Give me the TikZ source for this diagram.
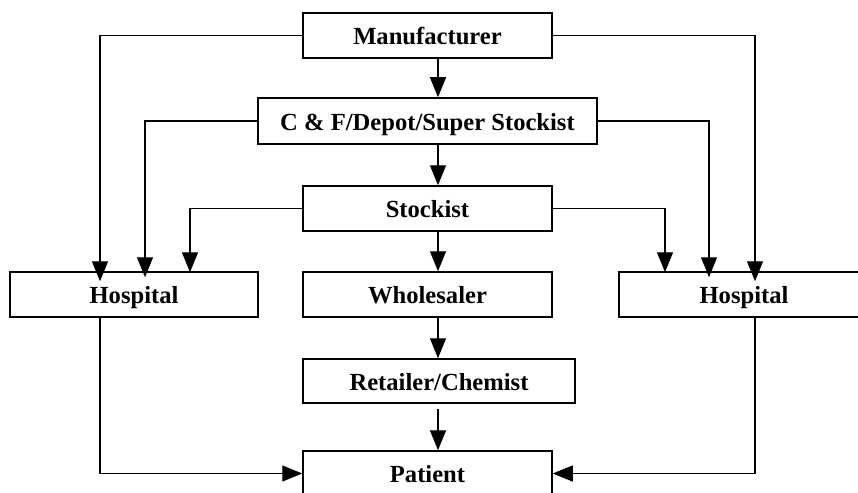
\documentclass[tikz,border=0pt]{standalone}
\usepackage{fontspec}
\setmainfont{Liberation Serif}
\usetikzlibrary{arrows.meta}

\begin{document}
\begin{tikzpicture}[x=1pt,y=-1pt,
   box/.style={draw,line width=1.5pt,inner sep=0pt,minimum height=45pt,
      text height=18pt,text depth=0pt,
      font=\bfseries\fontsize{24.6}{29}\selectfont},
   arr/.style={line width=1.3pt,-{Triangle[length=20pt,width=16pt]}}]

   \clip (0,0) rectangle (858,492);

   \node[box,minimum width=249pt] (manu) at (427.5,35.5) {Manufacturer};
   \node[box,minimum width=339pt,minimum height=46pt] (cf) at (427.5,121) {C \& F/Depot/Super Stockist};
   \node[box,minimum width=249pt] (stock) at (427.5,208.5) {Stockist};
   \node[box,minimum width=248pt] (hosL) at (134,294.5) {Hospital};
   \node[box,minimum width=249pt] (whole) at (427.5,294.5) {Wholesaler};
   \node[box,minimum width=250pt] (hosR) at (744,294.5) {Hospital};
   \node[box,minimum width=272pt,minimum height=44pt] (retail) at (439,381) {Retailer/Chemist};
   \node[box,minimum width=249pt] (patient) at (427.5,473.5) {Patient};
   \coordinate (mid) at (438,0);

   \draw[arr] (manu.south -| mid) -- (cf.north -| mid);
   \draw[arr] (cf.south -| mid) -- (stock.north -| mid);
   \draw[arr] (stock.south -| mid) -- (whole.north -| mid);
   \draw[arr] (whole.south -| mid) -- (retail.north -| mid);
   \draw[arr,shorten <=5pt] (retail.south -| mid) -- (patient.north -| mid);

   \draw[arr,shorten >=-10pt] (manu.west) -| ([xshift=-34pt]hosL.north);
   \draw[arr,shorten >=-6pt] (cf.west) -| ([xshift=11pt]hosL.north);
   \draw[arr,shorten >=-1pt] (stock.west) -| ([xshift=56pt]hosL.north);
   \draw[arr,shorten >=-10pt] (manu.east) -| ([xshift=11pt]hosR.north);
   \draw[arr,shorten >=-6pt] (cf.east) -| ([xshift=-35pt]hosR.north);
   \draw[arr,shorten >=-1pt] (stock.east) -| ([xshift=-79pt]hosR.north);

   \draw[arr] ([xshift=-34pt]hosL.south) |- (patient.west);
   \draw[arr] ([xshift=11pt]hosR.south) |- (patient.east);

\end{tikzpicture}
\end{document}
